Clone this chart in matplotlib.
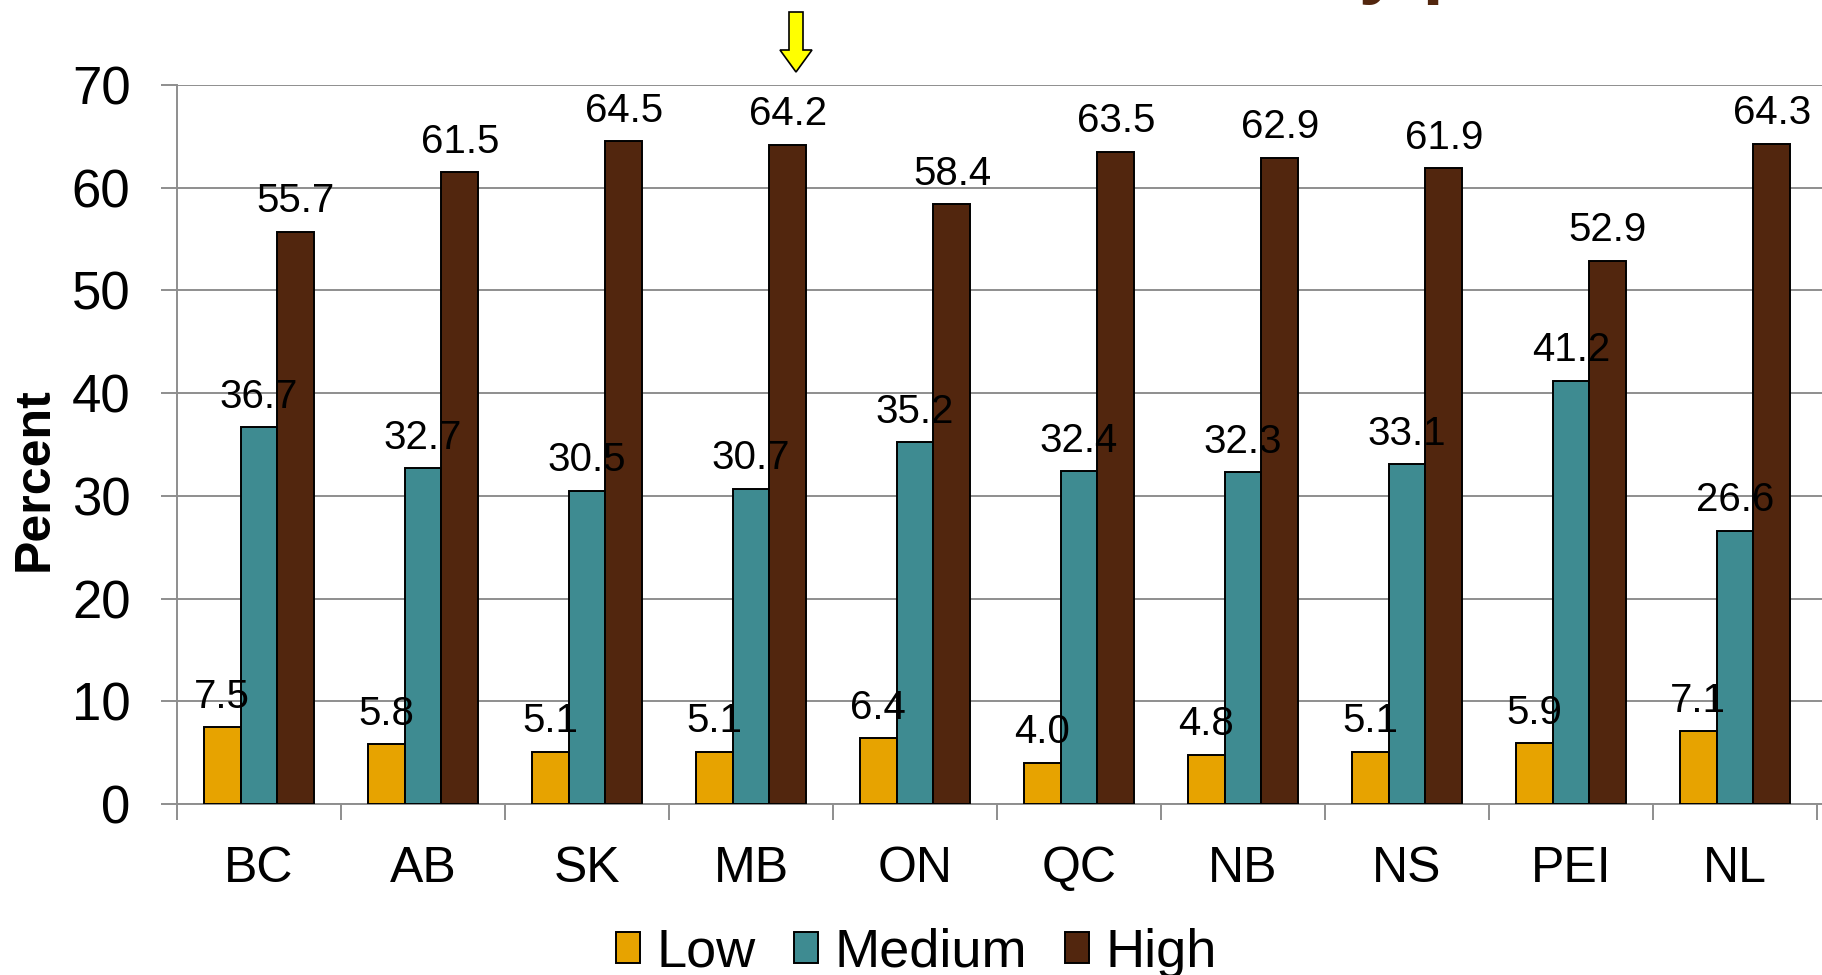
import numpy as np
import matplotlib.pyplot as plt
from matplotlib.patches import Patch, FancyArrow

plt.rcParams['font.family'] = ['Liberation Sans', 'DejaVu Sans']

provinces = ['BC', 'AB', 'SK', 'MB', 'ON', 'QC', 'NB', 'NS', 'PEI', 'NL']
low = [7.5, 5.8, 5.1, 5.1, 6.4, 4.0, 4.8, 5.1, 5.9, 7.1]
medium = [36.7, 32.7, 30.5, 30.7, 35.2, 32.4, 32.3, 33.1, 41.2, 26.6]
high = [55.7, 61.5, 64.5, 64.2, 58.4, 63.5, 62.9, 61.9, 52.9, 64.3]
series = ['Low', 'Medium', 'High']
colors = ['#E7A300', '#3E8B91', '#52260E']

W, H = 1822, 975
fig = plt.figure(figsize=(W / 100, H / 100), dpi=100)
ax = fig.add_axes([177 / W, 1 - 804 / H, 1 - 177 / W, (804 - 85) / H])

grid_c = '#8E8E8E'
x = np.arange(len(provinces))
w = 0.2256
for i, (vals, c) in enumerate(zip([low, medium, high], colors)):
    pos = x + (i - 1) * w
    ax.bar(pos, vals, w, color=c, edgecolor='black', linewidth=1.4, zorder=3)
    for p, v in zip(pos, vals):
        ax.annotate(f'{v:.1f}', (p, v), xytext=(0, 14), textcoords='offset points',
                    ha='center', va='baseline', fontsize=29, zorder=5)

ax.set_ylim(0, 70)
ax.set_xlim(-0.5, -0.5 + (W - 177) / 164)
ax.set_yticks(np.arange(0, 71, 10))
ax.yaxis.grid(True, color=grid_c, linewidth=1.4, zorder=0)
ax.tick_params(axis='y', labelsize=38, length=11.5, width=1.4, color=grid_c, pad=22)

ax.set_xticks(np.arange(-0.5, 10, 1))
ax.set_xticklabels([])
ax.set_xticks(x, minor=True)
ax.set_xticklabels(provinces, minor=True)
ax.tick_params(axis='x', which='major', length=11.5, width=1.4, color=grid_c)
ax.tick_params(axis='x', which='minor', length=0, labelsize=36, pad=30)

for s in ['top', 'right']:
    ax.spines[s].set_visible(False)
for s in ['left', 'bottom']:
    ax.spines[s].set_color(grid_c)
    ax.spines[s].set_linewidth(1.4)

fig.text(35 / W, 1 - 479 / H, 'Percent', rotation=90, fontsize=36, fontweight='bold',
         ha='center', va='center')

handles = [Patch(facecolor=c, edgecolor='black', linewidth=1.4) for c in colors]
fig.legend(handles, series, loc='center', bbox_to_anchor=(0.503, 0.023), ncol=3,
           frameon=False, prop={'size': 39},
           handlelength=0.45, handleheight=0.5, handletextpad=0.3, columnspacing=0.7,
           borderpad=0, borderaxespad=0)

# yellow arrow pointing at MB
fig.patches.append(FancyArrow(796 / W, 1 - 12 / H, 0, -60 / H, width=14 / W,
                              head_width=32 / W, head_length=22 / H,
                              length_includes_head=True, facecolor='#FFFF00',
                              edgecolor='black', linewidth=1.2,
                              transform=fig.transFigure, figure=fig))

# title cut off at the top of the slide
fig.text(1312 / W, 1 + 11 / H, 'by province', color='#52260E', fontsize=55,
         fontweight='bold', ha='left', va='baseline')

fig.savefig('out.png', dpi=100)
